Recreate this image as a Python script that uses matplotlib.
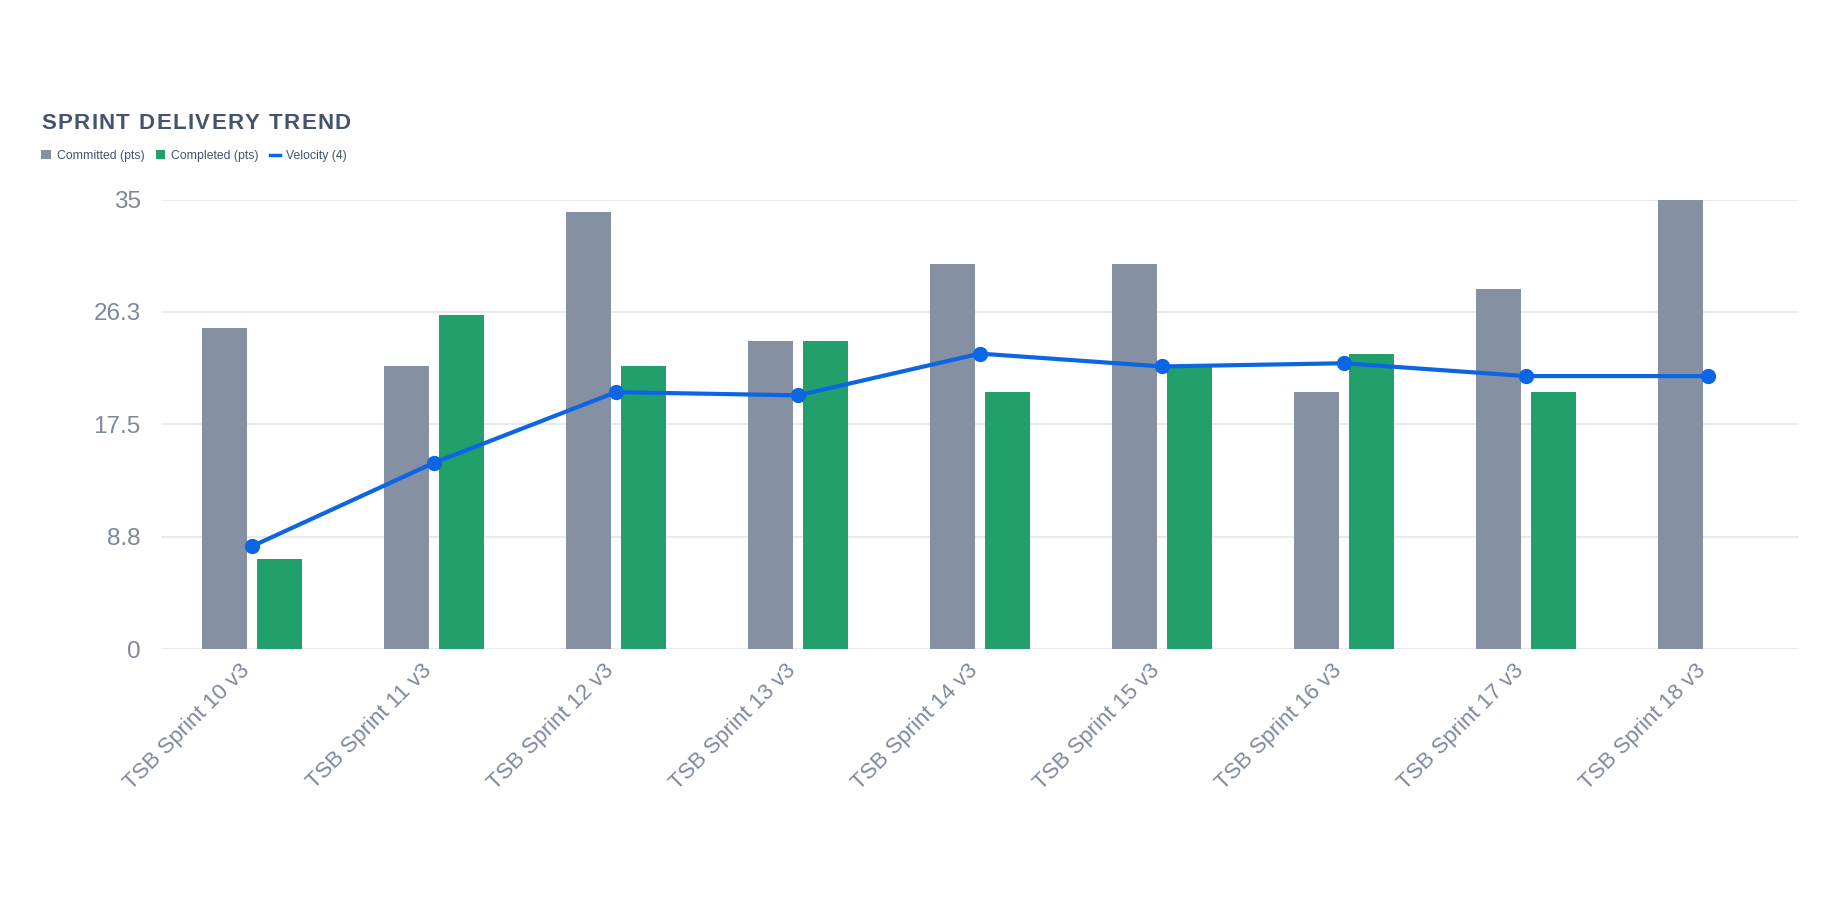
import numpy as np
import matplotlib
matplotlib.use('Agg')
import matplotlib.pyplot as plt
import matplotlib.transforms as mtransforms
from matplotlib.patches import Patch
from matplotlib.lines import Line2D

plt.rcParams['font.family'] = ['Liberation Sans', 'DejaVu Sans']

# Datos
sprints = ['TSB Sprint 10 v3', 'TSB Sprint 11 v3', 'TSB Sprint 12 v3',
           'TSB Sprint 13 v3', 'TSB Sprint 14 v3', 'TSB Sprint 15 v3',
           'TSB Sprint 16 v3', 'TSB Sprint 17 v3', 'TSB Sprint 18 v3']
committed = [25, 22, 34, 24, 30, 30, 20, 28, 35]
completed = [7, 26, 22, 24, 20, 22, 23, 20, 0]
velocity = [8.0, 14.5, 20.0, 19.75, 23.0, 22.0, 22.25, 21.25, 21.25]
y_ticks = [0, 8.75, 17.5, 26.25, 35]
y_tick_labels = ['0', '8.8', '17.5', '26.3', '35']

c_gray = '#8590a2'
c_green = '#22a06b'
c_blue = '#0c66e4'
c_title = '#44546f'
c_tick = '#7d889c'
c_grid = '#e9eaee'

W, H = 1840, 900
fig = plt.figure(figsize=(W / 100, H / 100), dpi=100)
ax = fig.add_axes([161 / W, 1 - 649 / H, (1799 - 161) / W, (649 - 199.5) / H])

x = np.arange(len(sprints))
w = 0.247
off = 0.151
ax.bar(x - off, committed, width=w, color=c_gray, zorder=2)
ax.bar(x + off, completed, width=w, color=c_green, zorder=2)
ax.plot(x, velocity, color=c_blue, lw=3, marker='o', ms=10, zorder=3)

ax.set_xlim(-0.5, len(sprints) - 0.5)
ax.set_ylim(0, 35)
ax.set_yticks(y_ticks)
ax.set_yticklabels(y_tick_labels)
ax.set_xticks(x)
ax.set_xticklabels(sprints, rotation=45, ha='right', va='center',
                   rotation_mode='anchor')
ax.tick_params(axis='y', length=0, pad=14.5, labelsize=17.5, labelcolor=c_tick)
ax.tick_params(axis='x', length=0, pad=10, labelsize=16, labelcolor=c_tick)
shift = mtransforms.ScaledTranslation(-5 / 100, -5 / 100, fig.dpi_scale_trans)
for lbl in ax.get_xticklabels():
    lbl.set_transform(lbl.get_transform() + shift)
ax.grid(axis='y', color=c_grid, lw=1.5, zorder=0)
ax.set_axisbelow(True)
for s in ax.spines.values():
    s.set_visible(False)

# Titulo con espaciado entre letras
title = 'SPRINT DELIVERY TREND'
title_kw = dict(fontsize=16, fontweight='bold', color=c_title, va='baseline', ha='left')
renderer = fig.canvas.get_renderer()
x0, x1 = 41, 351
space_w = 0.278 * 16 * 100 / 72
widths = []
for ch in title:
    if ch == ' ':
        widths.append(space_w)
    else:
        t = fig.text(0, 0, ch, **title_kw)
        widths.append(t.get_window_extent(renderer).width)
        t.remove()
gap = ((x1 - x0) - sum(widths)) / (len(title) - 1)
xc = x0
for ch, wc in zip(title, widths):
    if ch != ' ':
        fig.text(xc / W, 1 - 129.3 / H, ch, **title_kw)
    xc += wc + gap

handles = [Patch(facecolor=c_gray, lw=0, label='Committed (pts)'),
           Patch(facecolor=c_green, lw=0, label='Completed (pts)'),
           Line2D([], [], color=c_blue, lw=2.5, label='Velocity (4)')]
fig.legend(handles=handles, loc='center left', bbox_to_anchor=(41 / W, 1 - 156 / H),
           ncol=3, frameon=False, fontsize=8.8, labelcolor=c_title,
           handlelength=0.8, handleheight=0.8, handletextpad=0.5,
           columnspacing=0.9, borderpad=0, borderaxespad=0)

fig.savefig('out.png', dpi=100, facecolor='white')
